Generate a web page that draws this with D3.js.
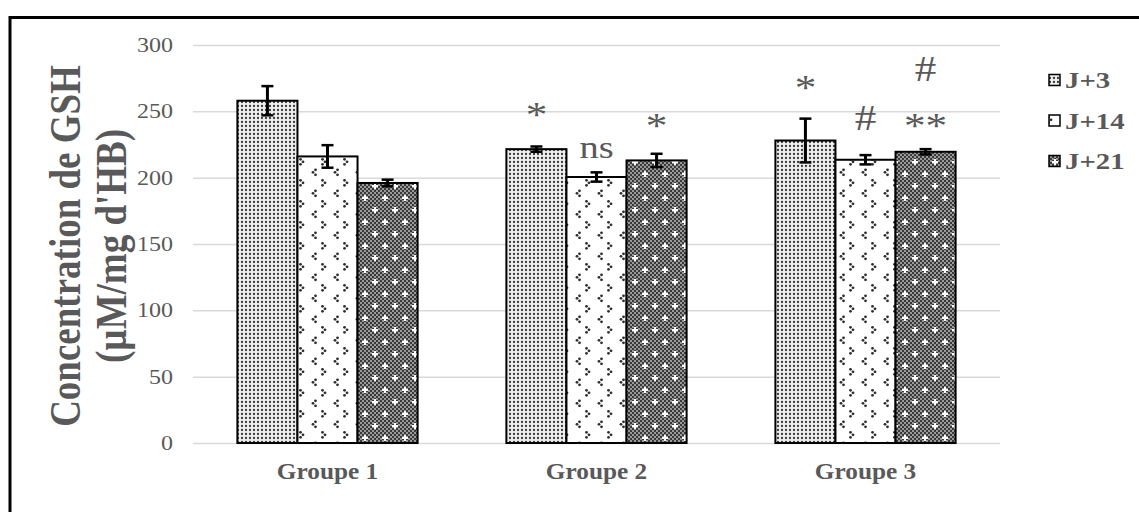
<!DOCTYPE html>
<html>
<head>
<meta charset="utf-8">
<script src="https://cdn.jsdelivr.net/npm/d3@7"></script>
<style>
  body { margin: 0; background: #fff; }
  svg { display: block; }
</style>
</head>
<body>
<svg id="chart" width="1139" height="512"></svg>
<script>
// ---- data ----
const groups = ["Groupe 1", "Groupe 2", "Groupe 3"];
const seriesNames = ["J+3", "J+14", "J+21"];
const j3 = [258, 221.5, 228];
const j14 = [216, 200.5, 213.5];
const j21 = [196, 213, 219.5];
const j3Err = [11, 2, 16.5];
const j14Err = [8.5, 3.5, 3.5];
const j21Err = [2.5, 5, 2];
const yTicks = [0, 50, 100, 150, 200, 250, 300];

// significance marks (group, series, text, baseline level in data units)
const markGroup = ["Groupe 2", "Groupe 2", "Groupe 2", "Groupe 3", "Groupe 3", "Groupe 3", "Groupe 3"];
const markSeries = ["J+3", "J+14", "J+21", "J+3", "J+14", "J+21", "J+21"];
const markText = ["*", "ns", "*", "*", "#", "#", "**"];
const markLevel = [238.5, 215, 230, 258.5, 236, 273, 230];

const yTitle1 = "Concentration de GSH";
const yTitle2 = "(µM/mg d'HB)";

// ---- layout ----
const SX = 1.2;               // horizontal text stretch
const textColor = "#595959";
const gridColor = "#d9d9d9";
const serif = "'Liberation Serif', 'Times New Roman', serif";

const svg = d3.select("#chart");

const x0 = d3.scaleBand().domain(groups).range([193, 1000]).paddingInner(0.33).paddingOuter(0.165);
const x1 = d3.scaleBand().domain(seriesNames).range([0, x0.bandwidth()]);
const y = d3.scaleLinear().domain([0, 300]).range([443, 45]);

const values = { "J+3": j3, "J+14": j14, "J+21": j21 };
const errors = { "J+3": j3Err, "J+14": j14Err, "J+21": j21Err };

// ---- patterns ----
const defs = svg.append("defs");

const p3 = defs.append("pattern").attr("id", "pat-j3")
  .attr("patternUnits", "userSpaceOnUse").attr("width", 4).attr("height", 4);
p3.append("rect").attr("width", 4).attr("height", 4).attr("fill", "#efefef");
p3.append("circle").attr("cx", 2).attr("cy", 2).attr("r", 1.15).attr("fill", "#383838");

const p14 = defs.append("pattern").attr("id", "pat-j14")
  .attr("patternUnits", "userSpaceOnUse").attr("width", 22).attr("height", 21);
p14.append("rect").attr("width", 22).attr("height", 21).attr("fill", "#fff");
[[7.5, 1.8], [5, 4.3], [7.5, 6.8], [14.5, 12.3], [17, 14.8], [14.5, 17.3]].forEach(([cx, cy]) =>
  p14.append("circle").attr("cx", cx).attr("cy", cy).attr("r", 1.4).attr("fill", "#2e2e2e"));

const chk = defs.append("pattern").attr("id", "pat-chk")
  .attr("patternUnits", "userSpaceOnUse").attr("width", 4).attr("height", 4);
chk.append("rect").attr("width", 4).attr("height", 4).attr("fill", "#999");
chk.append("rect").attr("width", 2).attr("height", 2).attr("fill", "#3a3a3a");
chk.append("rect").attr("x", 2).attr("y", 2).attr("width", 2).attr("height", 2).attr("fill", "#3a3a3a");

const p21 = defs.append("pattern").attr("id", "pat-j21")
  .attr("patternUnits", "userSpaceOnUse").attr("width", 20).attr("height", 24);
p21.append("rect").attr("width", 20).attr("height", 24).attr("fill", "url(#pat-chk)");
[[5, 6], [15, 18]].forEach(([cx, cy]) => {
  p21.append("rect").attr("x", cx - 3).attr("y", cy - 1).attr("width", 6).attr("height", 2).attr("fill", "#fff");
  p21.append("rect").attr("x", cx - 1).attr("y", cy - 3).attr("width", 2).attr("height", 6).attr("fill", "#fff");
});

const fills = { "J+3": "url(#pat-j3)", "J+14": "url(#pat-j14)", "J+21": "url(#pat-j21)" };

// ---- frame (top and left edge) ----
svg.append("path").attr("d", "M10,1200 L10,17.5 L1200,17.5")
  .attr("fill", "none").attr("stroke", "#000").attr("stroke-width", 3);

// ---- grid ----
const yAxis = d3.axisLeft(y).tickValues(yTicks).tickSize(-(1000 - 193)).tickPadding(20);
const gAxis = svg.append("g").attr("transform", "translate(193,0)").call(yAxis);
gAxis.select(".domain").remove();
gAxis.selectAll(".tick line").attr("stroke", gridColor).attr("stroke-width", 1.5);
gAxis.selectAll(".tick text")
  .attr("fill", textColor)
  .attr("font-family", serif)
  .attr("font-size", 20)
  .attr("text-anchor", "end")
  .attr("dy", "0.33em")
  .attr("transform", function () {
    const xx = +d3.select(this).attr("x");
    d3.select(this).attr("x", 0);
    return `translate(${xx},0) scale(${SX},1)`;
  });

// ---- bars ----
const rows = [];
groups.forEach((g, gi) => seriesNames.forEach(s => rows.push({ g, s, v: values[s][gi], e: errors[s][gi] })));

const bars = svg.append("g");
bars.selectAll("rect").data(rows).join("rect")
  .attr("x", d => x0(d.g) + x1(d.s))
  .attr("y", d => y(d.v))
  .attr("width", x1.bandwidth())
  .attr("height", d => y(0) - y(d.v))
  .attr("fill", d => fills[d.s])
  .attr("stroke", "#000")
  .attr("stroke-width", 2);

// ---- error bars ----
const eb = svg.append("g").attr("stroke", "#000");
rows.forEach(d => {
  const cx = x0(d.g) + x1(d.s) + x1.bandwidth() / 2;
  eb.append("line").attr("x1", cx).attr("x2", cx).attr("y1", y(d.v + d.e)).attr("y2", y(d.v - d.e)).attr("stroke-width", 3);
  [d.v + d.e, d.v - d.e].forEach(v =>
    eb.append("line").attr("x1", cx - 6).attr("x2", cx + 6).attr("y1", y(v)).attr("y2", y(v)).attr("stroke-width", 2.5));
});

// ---- significance marks ----
markText.forEach((t, i) => {
  const cx = x0(markGroup[i]) + x1(markSeries[i]) + x1.bandwidth() / 2;
  svg.append("text")
    .attr("transform", `translate(${cx},${y(markLevel[i])}) scale(${SX},1)`)
    .attr("text-anchor", "middle")
    .attr("font-family", serif)
    .attr("font-size", t === "ns" ? 32 : 36)
    .attr("fill", textColor)
    .text(t);
});

// ---- category labels ----
groups.forEach(g => {
  svg.append("text")
    .attr("transform", `translate(${x0(g) + x0.bandwidth() / 2},479) scale(1.1,1)`)
    .attr("text-anchor", "middle")
    .attr("font-family", serif)
    .attr("font-weight", "bold")
    .attr("font-size", 23)
    .attr("fill", textColor)
    .text(g);
});

// ---- y title ----
[[yTitle1, 64], [yTitle2, 110]].forEach(([t, cx]) => {
  svg.append("text")
    .attr("transform", `translate(${cx},246) scale(${SX},1) rotate(-90)`)
    .attr("text-anchor", "middle")
    .attr("dy", "0.35em")
    .attr("font-family", serif)
    .attr("font-weight", "bold")
    .attr("font-size", 37)
    .attr("fill", textColor)
    .text(t);
});

// ---- legend ----
const legendY = d3.scalePoint().domain(seriesNames).range([80, 161]);
seriesNames.forEach(s => {
  const cy = legendY(s);
  svg.append("rect")
    .attr("x", 1049).attr("y", cy - 5.5).attr("width", 11).attr("height", 11)
    .attr("fill", fills[s]).attr("stroke", "#000").attr("stroke-width", 1.5);
  svg.append("text")
    .attr("transform", `translate(1065,${cy}) scale(${SX},1)`)
    .attr("dy", "0.35em")
    .attr("font-family", serif)
    .attr("font-weight", "bold")
    .attr("font-size", 24)
    .attr("fill", textColor)
    .text(s);
});
</script>
</body>
</html>
